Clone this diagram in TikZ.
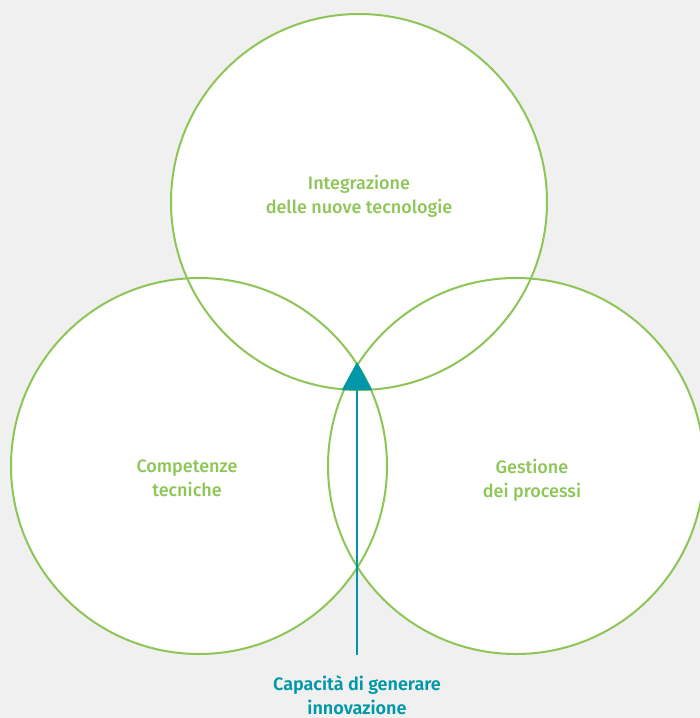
\documentclass[tikz,border=0pt]{standalone}
\usepackage{fontspec}
\setmainfont{Fira Sans}[UprightFont={* Medium}, BoldFont={* SemiBold}]
\usepackage{tikz}
\usetikzlibrary{arrows.meta,positioning}
\definecolor{leaf}{HTML}{8DC657}
\definecolor{sea}{HTML}{0098A8}
\definecolor{paper}{HTML}{F0F0F0}
\tikzset{
	x=1pt, y=-1pt,
	ring/.style={circle, draw=leaf, line width=2pt, minimum size=376pt, inner sep=0pt},
	area/.style={text=leaf, align=center, font=\fontsize{18}{24}\selectfont},
	goal/.style={text=sea, align=center, font=\fontsize{18}{24}\selectfont\bfseries},
	pointer/.style={draw=sea, line width=2pt, -{Triangle[width=30pt,length=28pt]}},
}
\begin{document}
\begin{tikzpicture}
	\fill[paper] (0,0) rectangle (700,718);
	\useasboundingbox (0,0) rectangle (700,718);
	% white discs first, outlines after
	\foreach \p in {(359,202),(199,466),(516,466)}
		\fill[white] \p circle (188);
	\node[ring] (tech) at (359,202) {};
	\node[ring] (skills) at (199,466) {};
	\node[ring] (process) at (516,466) {};

	\node[area] (techtxt) at (359,196.5) {Integrazione\\delle nuove tecnologie};
	\node[area] (skillstxt) at (187,478) {Competenze\\tecniche};
	\node[area] (processtxt) at (532,480) {Gestione\\dei processi};

	\node[goal] (innov) at (357,695) {Capacità di generare\\innovazione};
	\coordinate (foot) at (357,655);
	\coordinate (tip) at (357,362);
	\draw[pointer] (foot) -- (tip);
\end{tikzpicture}
\end{document}
